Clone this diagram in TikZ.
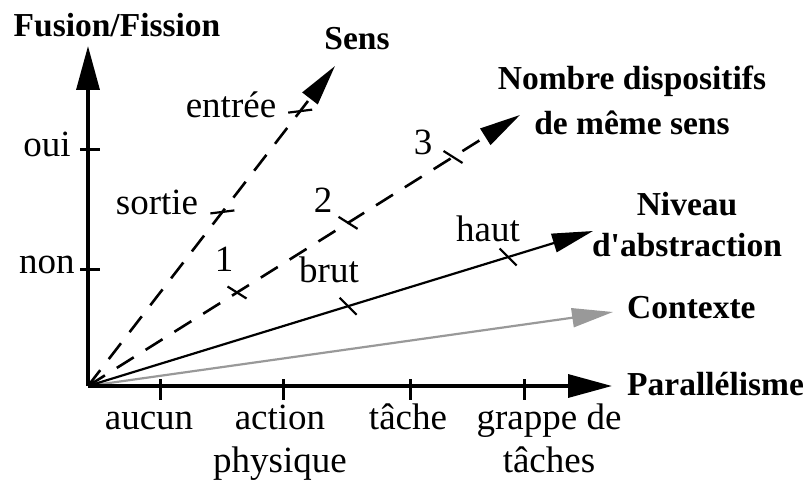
\documentclass[tikz,border=0pt]{standalone}
\usepackage{fontspec}
\setmainfont{Liberation Serif}
\usetikzlibrary{arrows.meta,calc}
\definecolor{ctxgray}{gray}{0.6}
\begin{document}
\begin{tikzpicture}[x=1pt,y=-1pt,
  axis/.style={line width=3.4pt,-{Triangle[length=44pt,width=23pt]}},
  ray/.style={line width=2.2pt,-{Triangle[length=41pt,width=19pt]}},
  dashray/.style={ray,line width=2.6pt,dash pattern=on 20pt off 14pt},
  tickmark/.style={line width=2.2pt},
  axtick/.style={line width=3pt},
  lab/.style={font=\fontsize{37}{43}\selectfont,inner sep=0pt,anchor=base,align=center},
  blab/.style={font=\bfseries\fontsize{33.5}{43}\selectfont,inner sep=0pt,anchor=base,align=center}]
\useasboundingbox (0,0) rectangle (806,481);
\coordinate (O) at (88,386);
\coordinate (Ytip) at (88,46);
\coordinate (Xtip) at (612,386);
\coordinate (Stip) at (335,66);
\coordinate (Ntip) at (520,115);
\coordinate (Atip) at (593,231);
\coordinate (Ctip) at (613,312);
% rays
\draw[ray,ctxgray] (O) -- (Ctip);
\draw[ray] (O) -- (Atip);
\draw[dashray] (O) -- (Ntip);
\draw[dashray] (O) -- (Stip);
% axes
\draw[axis] (O) -- (Ytip);
\draw[axis] (O) -- (Xtip);
% axis ticks
\coordinate (youi) at (88,150);
\coordinate (ynon) at (88,269);
\draw[axtick] (youi) ++(-8,0) -- ++(20,0);
\draw[axtick] (ynon) ++(-8,0) -- ++(20,0);
\coordinate (xaucun) at (160,386);
\coordinate (xaction) at (283,386);
\coordinate (xtache) at (410,386);
\coordinate (xgrappe) at (524,386);
\foreach \c in {xaucun,xaction,xtache,xgrappe}
  \draw[axtick] (\c) ++(0,-7) -- ++(0,21);
% ticks on rays
\coordinate (sortie) at ($(O)!0.544!(Stip)$);
\coordinate (entree) at ($(O)!0.859!(Stip)$);
\draw[tickmark] (sortie) ++(-12,1.5) -- ++(24,-3);
\draw[tickmark] (entree) ++(-12,1.5) -- ++(24,-3);
\coordinate (n1) at ($(O)!0.345!(Ntip)$);
\coordinate (n2) at ($(O)!0.602!(Ntip)$);
\coordinate (n3) at ($(O)!0.845!(Ntip)$);
\foreach \c in {n1,n2,n3}
  \draw[tickmark] (\c) ++(-9.5,-6) -- ++(19,12);
\coordinate (brut) at ($(O)!0.515!(Atip)$);
\coordinate (haut) at ($(O)!0.832!(Atip)$);
\foreach \c in {brut,haut}
  \draw[tickmark] (\c) ++(-8.5,-8.5) -- ++(17,17);
% labels
\node[blab] (lFusion) at (117,37) {Fusion/Fission};
\node[blab] (lSens) at (357,50) {Sens};
\node[blab,font=\bfseries\fontsize{33.5}{45}\selectfont] (lNombre) at (632,135) {Nombre dispositifs\\de même sens};
\node[blab,font=\bfseries\fontsize{33.5}{41}\selectfont] (lNiveau) at (687,257) {Niveau\\d\textquotesingle abstraction};
\node[blab,anchor=base west] (lContexte) at (627,318) {Contexte};
\node[blab,anchor=base west] (lPar) at (627,395) {Parallélisme};
\node[lab] (loui) at (47,157) {oui};
\node[lab] (lnon) at (47,273) {non};
\node[lab] (lentree) at (231,118) {entrée};
\node[lab] (lsortie) at (157,215) {sortie};
\node[lab] (l1) at (224,272) {1};
\node[lab] (l2) at (323,213) {2};
\node[lab] (l3) at (423,155) {3};
\node[lab] (lbrut) at (329,283) {brut};
\node[lab] (lhaut) at (488,242) {haut};
\node[lab] (laucun) at (149,429) {aucun};
\node[lab] (laction) at (280,472) {action\\physique};
\node[lab] (ltache) at (408,429) {tâche};
\node[lab] (lgrappe) at (549,472) {grappe de\\tâches};
\end{tikzpicture}
\end{document}
